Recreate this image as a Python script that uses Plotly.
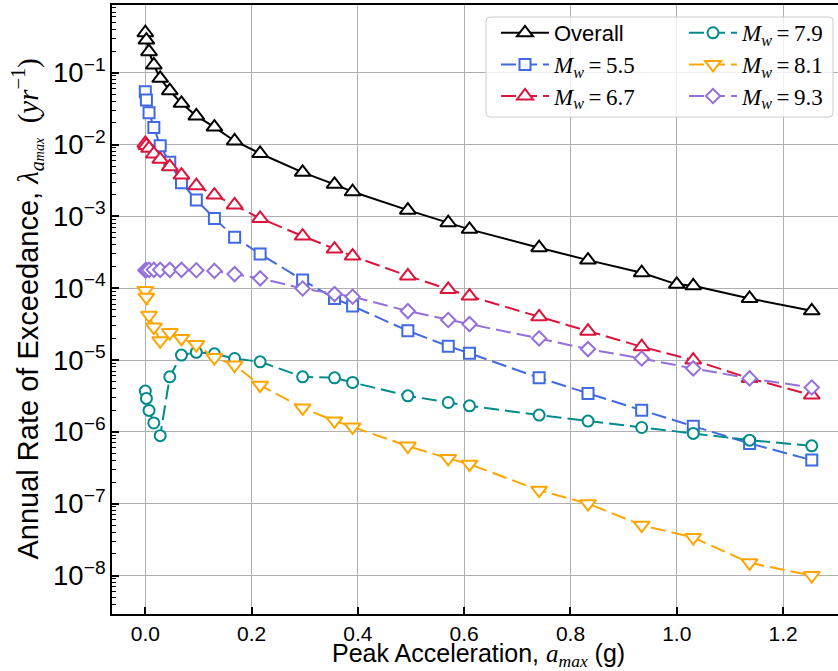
import plotly.graph_objects as go

# ---- data ----
pga = [0.0, 0.002, 0.007, 0.016, 0.028, 0.046, 0.068, 0.096, 0.13, 0.168, 0.216,
       0.296, 0.356, 0.39, 0.494, 0.57, 0.61, 0.741, 0.833, 0.934, 1.031, 1.137, 1.254]
pga_overall = [0.0, 0.002, 0.007, 0.016, 0.028, 0.046, 0.068, 0.096, 0.13, 0.168, 0.216,
               0.296, 0.356, 0.39, 0.494, 0.57, 0.61, 0.741, 0.833, 0.934, 1.0, 1.031, 1.137, 1.254]

overall = [0.36, 0.285, 0.196, 0.128, 0.0835, 0.0561, 0.0375, 0.025, 0.0175, 0.0112,
           0.0075, 0.0041, 0.00279, 0.0022, 0.00122, 0.000815, 0.000659, 0.000366,
           0.000246, 0.000164, 0.000113, 0.000108, 7.2e-5, 4.84e-5]
mw55 = [0.0543, 0.0417, 0.0277, 0.0173, 0.00962, 0.00565, 0.00294, 0.00169, 0.000937,
        0.00051, 0.000299, 0.00013, 7.2e-5, 5.63e-5, 2.55e-5, 1.56e-5, 1.24e-5, 5.65e-6,
        3.42e-6, 2.0e-6, 1.2e-6, 6.9e-7, 4.04e-7]
mw67 = [0.0104, 0.0097, 0.00885, 0.00738, 0.00622, 0.00491, 0.00376, 0.00267, 0.00198,
        0.00144, 0.000937, 0.000532, 0.000351, 0.00028, 0.000148, 9.6e-5, 7.76e-5, 4.0e-5,
        2.52e-5, 1.53e-5, 9.97e-6, 5.55e-6, 3.25e-6]
mw79 = [3.69e-6, 2.92e-6, 1.99e-6, 1.33e-6, 8.85e-7, 5.83e-6, 1.17e-5, 1.28e-5, 1.22e-5,
        1.05e-5, 9.44e-6, 5.83e-6, 5.65e-6, 4.87e-6, 3.17e-6, 2.56e-6, 2.3e-6, 1.71e-6,
        1.41e-6, 1.15e-6, 9.5e-7, 7.66e-7, 6.38e-7]
mw81 = [9.3e-5, 7.5e-5, 4.2e-5, 2.87e-5, 1.85e-5, 2.41e-5, 2.0e-5, 1.64e-5, 1.08e-5,
        8.5e-6, 4.47e-6, 2.15e-6, 1.42e-6, 1.17e-6, 6.33e-7, 4.26e-7, 3.55e-7, 1.54e-7,
        1.0e-7, 5.02e-8, 3.38e-8, 1.5e-8, 1.0e-8]
mw93 = [1.78e-4, 1.79e-4, 1.8e-4, 1.8e-4, 1.8e-4, 1.8e-4, 1.8e-4, 1.78e-4, 1.74e-4,
        1.57e-4, 1.37e-4, 9.9e-5, 8.28e-5, 7.6e-5, 4.8e-5, 3.6e-5, 3.16e-5, 2.0e-5,
        1.42e-5, 1.05e-5, 7.64e-6, 5.55e-6, 4.15e-6]

x_ticks = [0.0, 0.2, 0.4, 0.6, 0.8, 1.0, 1.2]

SANS = "Liberation Sans, Arial, sans-serif"
SERIF = "Liberation Serif, Times New Roman, serif"


def mw_label(v):
    return (f"<span style=\"font-family:{SERIF};font-size:23px\"><i>M</i><sub><i>w</i></sub>"
            f"\u2009=\u2009{v}</span>")


W, H = 838, 671
L, R, T, B = 112, 0, 5, 57
pw, ph = W - L - R, H - T - B


def px2paper(px, py):
    return (px - L) / pw, (H - B - py) / ph


fig = go.Figure()

series = [
    (pga_overall, overall, "Overall", "black", "triangle-up", "solid", 14, "legend", 1),
    (pga, mw55, mw_label("5.5"), "#4169E1", "square", "15px,6px", 11, "legend", 2),
    (pga, mw67, mw_label("6.7"), "#DC143C", "triangle-up", "15px,6px", 14, "legend", 3),
    (pga, mw79, mw_label("7.9"), "#008B8B", "circle", "15px,6px", 11, "legend2", 1),
    (pga, mw81, mw_label("8.1"), "#FFA500", "triangle-down", "15px,6px", 14, "legend2", 2),
    (pga, mw93, mw_label("9.3"), "#9370DB", "diamond", "15px,6px", 11, "legend2", 3),
]

for xs, ys, name, col, sym, dash, ms, lg, rank in series:
    fig.add_trace(go.Scatter(
        x=xs, y=ys, name=name, mode="lines+markers",
        line=dict(color=col, width=2, dash=dash),
        marker=dict(symbol=sym, size=ms, color="white",
                    line=dict(color=col, width=2)),
        legend=lg, legendrank=rank, legendgroup=name,
    ))

# legend frame
bx0, by0 = px2paper(486, 117)
bx1, by1 = px2paper(833, 17)
rx, ry = 4 / pw, 4 / ph
path = (f"M {bx0+rx},{by1} L {bx1-rx},{by1} Q {bx1},{by1} {bx1},{by1-ry} "
        f"L {bx1},{by0+ry} Q {bx1},{by0} {bx1-rx},{by0} L {bx0+rx},{by0} "
        f"Q {bx0},{by0} {bx0},{by0+ry} L {bx0},{by1-ry} Q {bx0},{by1} {bx0+rx},{by1} Z")
fig.add_shape(type="path", path=path, xref="paper", yref="paper",
              fillcolor="rgba(255,255,255,0.8)", line=dict(color="#cccccc", width=1),
              layer="above")

lx1, ly = px2paper(496, 12)
lx2, _ = px2paper(684, 12)
legend_common = dict(bgcolor="rgba(0,0,0,0)", borderwidth=0,
                     font=dict(family=SANS, size=22, color="black"),
                     xanchor="left", yanchor="top", tracegroupgap=0,
                     itemsizing="trace", itemwidth=48)

grid_col = "#b0b0b0"
fig.update_layout(
    width=W, height=H,
    margin=dict(l=L, r=R, t=T, b=B, pad=0),
    paper_bgcolor="white", plot_bgcolor="white",
    showlegend=True,
    legend=dict(x=lx1, y=ly, **legend_common),
    legend2=dict(x=lx2, y=ly, **legend_common),
    font=dict(family=SANS, color="black"),
    xaxis=dict(
        range=[-0.0627, (W - 145) / 531.7],
        tickvals=x_ticks, ticktext=[f"{v:.1f}" for v in x_ticks],
        ticks="inside", ticklen=7, tickwidth=1.5, tickcolor="black",
        showline=True, linecolor="black", linewidth=2, mirror=True,
        showgrid=True, gridcolor=grid_col, gridwidth=1.2,
        zeroline=False,
        tickfont=dict(family=SANS, size=21, color="black"),
    ),
    yaxis=dict(
        type="log", range=[-8.536, -0.0575],
        tickmode="linear", tick0=0, dtick=1, exponentformat="power",
        ticks="inside", ticklen=7, tickwidth=1.5, tickcolor="black",
        minor=dict(ticks="inside", ticklen=4, tickwidth=1, tickcolor="black",
                   showgrid=False),
        showline=True, linecolor="black", linewidth=2, mirror=False,
        showgrid=True, gridcolor=grid_col, gridwidth=1.2,
        zeroline=False,
        tickfont=dict(family=SANS, size=22, color="black"),
    ),
)

xlab_x, xlab_y = px2paper(478.5, 655)
ylab_x, ylab_y = px2paper(27, 309.5)
fig.add_annotation(
    text=(f"Peak Acceleration, <span style=\"font-family:{SERIF}\"><i>a</i>"
          f"<sub><i>max</i></sub></span> (g)"),
    x=xlab_x, y=xlab_y, xref="paper", yref="paper", showarrow=False, borderpad=0,
    xanchor="center", yanchor="middle", font=dict(family=SANS, size=25, color="black"))
fig.add_annotation(
    text=(f"Annual Rate of Exceedance, <span style=\"font-family:{SERIF}\"><i>λ</i>"
          f"<sub><i>a</i><span style=\"font-size:14px\"><i>max</i></span></sub>"
          f"  (<i>yr</i><sup>−1</sup>)</span>"),
    x=ylab_x, y=ylab_y, xref="paper", yref="paper", showarrow=False, textangle=-90,
    xanchor="center", yanchor="middle", font=dict(family=SANS, size=29, color="black"))

fig.write_html("out.html")
